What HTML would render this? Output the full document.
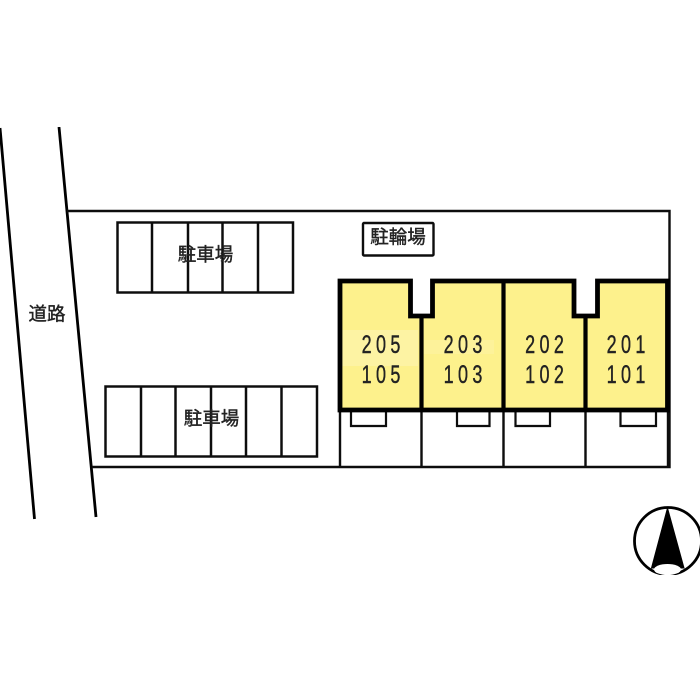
<!DOCTYPE html>
<html><head><meta charset="utf-8"><style>
html,body{margin:0;padding:0;background:#fff;width:700px;height:700px;overflow:hidden}
svg{display:block}
text{font-family:"Liberation Sans","Noto Sans CJK JP",sans-serif;fill:#222}
.j{font-family:"Noto Sans CJK JP","Liberation Sans",sans-serif;font-size:18.5px;text-anchor:middle;stroke:#222;stroke-width:.4}
.n{font-size:25px;text-anchor:middle;letter-spacing:6px;fill:#222;stroke:#222;stroke-width:.4}
</style></head><body>
<svg width="700" height="700" viewBox="0 0 700 700" xmlns="http://www.w3.org/2000/svg">
<defs><filter id="b" x="0" y="0" width="100%" height="100%"><feGaussianBlur stdDeviation="0.3"/></filter></defs>
<g filter="url(#b)">
<!-- road -->
<g stroke="#000" stroke-width="2.800" fill="none">
<line x1="0" y1="128" x2="34.500" y2="519"/>
<line x1="59" y1="127" x2="96" y2="517"/>
</g>
<!-- site boundary -->
<path d="M67 211H669.500V467H92" fill="none" stroke="#111" stroke-width="2.400"/>
<!-- parking -->
<g fill="none" stroke="#111" stroke-width="2.500">
<rect x="117.500" y="222.500" width="175.500" height="70"/>
<path d="M152 222V293M188 222V293M222.500 222V293M258 222V293"/>
<rect x="105.500" y="386.500" width="211.500" height="70"/>
<path d="M141 386V457M175.500 386V457M211 386V457M246 386V457M281.500 386V457"/>
</g>
<!-- lower verticals and steps -->
<g fill="none" stroke="#111" stroke-width="2.400">
<path d="M340 410V467M421.500 410V467M503.500 410V467M585.500 410V467M668 410V467"/>
<path d="M351 410V426H386V410M457 410V426H489.500V410M515.500 410V426H550V410M620.500 410V426H656V410" stroke-width="2.200"/>
</g>
<!-- building -->
<path d="M340 281H410.500V316H432.500V281H574V316H597.500V281H667.500V410H340Z" fill="#fdf18c"/>
<rect x="342" y="330" width="76" height="36" fill="#fff" opacity=".2"/>
<rect x="424" y="340" width="70" height="14" fill="#fff" opacity=".12"/>
<path d="M340 281H410.500V316H432.500V281H574V316H597.500V281H667.500V410H340Z" fill="none" stroke="#000" stroke-width="4.800"/>
<path d="M421.500 316V410M503.500 281V410M585.500 316V410" fill="none" stroke="#000" stroke-width="4.200"/>
<!-- bike label -->
<rect x="363" y="223" width="70.500" height="32.500" rx="1" fill="#fff" stroke="#111" stroke-width="2.400"/>
<text class="j" x="398" y="243.500">駐輪場</text>
<text class="j" x="205.500" y="261">駐車場</text>
<text class="j" x="211.500" y="425">駐車場</text>
<text class="j" x="47" y="320.500">道路</text>
<!-- unit numbers -->
<text class="n" transform="translate(381,353) scale(.72,1)" x="3">205</text>
<text class="n" transform="translate(381,383) scale(.72,1)" x="3">105</text>
<text class="n" transform="translate(463,353) scale(.72,1)" x="3">203</text>
<text class="n" transform="translate(463,383) scale(.72,1)" x="3">103</text>
<text class="n" transform="translate(544.500,353) scale(.72,1)" x="3">202</text>
<text class="n" transform="translate(544.500,383) scale(.72,1)" x="3">102</text>
<text class="n" transform="translate(626,353) scale(.72,1)" x="3">201</text>
<text class="n" transform="translate(626,383) scale(.72,1)" x="3">101</text>
<!-- north arrow -->
<circle cx="668" cy="541" r="33.500" fill="#fff" stroke="#000" stroke-width="2.800"/>
<path d="M667.500 508L651.500 568L684 568Z" fill="#000" stroke="#000" stroke-width="1"/>
<ellipse cx="667.500" cy="569.500" rx="13.500" ry="5.500" fill="#fff"/>
</g>
</svg>
</body></html>
